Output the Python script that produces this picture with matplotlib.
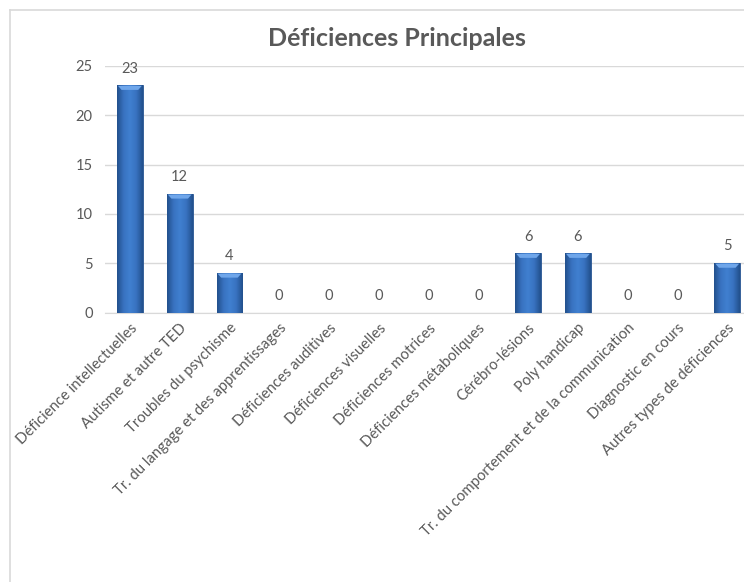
import numpy as np
import matplotlib
matplotlib.use("Agg")
import matplotlib.pyplot as plt
from matplotlib.colors import LinearSegmentedColormap
from matplotlib.patches import Polygon
from matplotlib.lines import Line2D

categories = [
    "Déficience intellectuelles",
    "Autisme et autre TED",
    "Troubles du psychisme",
    "Tr. du langage et des apprentissages",
    "Déficiences auditives",
    "Déficiences visuelles",
    "Déficiences motrices",
    "Déficiences métaboliques",
    "Cérébro-lésions",
    "Poly handicap",
    "Tr. du comportement et de la communication",
    "Diagnostic en cours",
    "Autres types de déficiences",
]
values = [23, 12, 4, 0, 0, 0, 0, 0, 6, 6, 0, 0, 5]
y_ticks = [0, 5, 10, 15, 20, 25]

plt.rcParams['font.family'] = ['Lato', 'DejaVu Sans']
text_color = '#595959'
grid_color = '#D9D9D9'

W, H = 744, 582
fig = plt.figure(figsize=(W / 100, H / 100), dpi=100)
ax = fig.add_axes([105 / W, 1 - 312.7 / H, 1 - 105 / W, (312.7 - 65.7) / H])

# outer frame of the chart (cropped on the right and bottom)
fig.lines.append(Line2D([10 / W, 1], [1 - 10 / H, 1 - 10 / H], transform=fig.transFigure,
                        color=grid_color, linewidth=1.2))
fig.lines.append(Line2D([10 / W, 10 / W], [0, 1 - 10 / H], transform=fig.transFigure,
                        color=grid_color, linewidth=1.2))

x = np.arange(len(categories))
bars = ax.bar(x, values, width=0.52, color='#3B74C2', edgecolor='#28548F',
              linewidth=0.6, zorder=3)

# excel-like shaded bars
bar_cmap = LinearSegmentedColormap.from_list(
    'bevel', ['#22508C', '#3872C0', '#4080D0', '#3872C0', '#22508C'])
grad = np.linspace(0, 1, 64).reshape(1, -1)
for b in bars:
    if b.get_height() <= 0:
        continue
    x0, w, h = b.get_x(), b.get_width(), b.get_height()
    im = ax.imshow(grad, cmap=bar_cmap, aspect='auto', zorder=4,
                   extent=[x0, x0 + w, 0, h], interpolation='bicubic')
    im.set_clip_path(b)
    # light bevel on top
    ax.add_patch(Polygon([(x0 + w * 0.04, h - 0.04), (x0 + w * 0.96, h - 0.04),
                          (x0 + w * 0.82, h - 0.45), (x0 + w * 0.18, h - 0.45)],
                         closed=True, facecolor='#6FA6EA', edgecolor='none', zorder=5))

for xi, v in zip(x, values):
    ax.text(xi, v + 1.0, str(v), ha='center', va='bottom', fontsize=10.5,
            color=text_color, zorder=6)

ax.set_xlim(-0.5, (W - 130) / 49.77)
ax.set_ylim(0, 25)
ax.set_yticks(y_ticks)
ax.set_yticklabels([str(t) for t in y_ticks], fontsize=10.5, color=text_color)
ax.set_xticks(x)
ax.set_xticklabels(categories, rotation=45, ha='right', va='top',
                   rotation_mode='anchor', fontsize=10.7, color=text_color)
ax.tick_params(axis='both', length=0)
ax.tick_params(axis='y', pad=9)
ax.tick_params(axis='x', pad=6)
ax.grid(axis='y', color=grid_color, linewidth=1, zorder=0)
for s in ['top', 'right', 'left']:
    ax.spines[s].set_visible(False)
ax.spines['bottom'].set_color(grid_color)
ax.set_axisbelow(True)

fig.text(397 / W, 1 - 39 / H, "Déficiences Principales", ha='center',
         va='center', fontsize=18, fontweight='bold', color=text_color)

fig.savefig('out.png', dpi=100)
